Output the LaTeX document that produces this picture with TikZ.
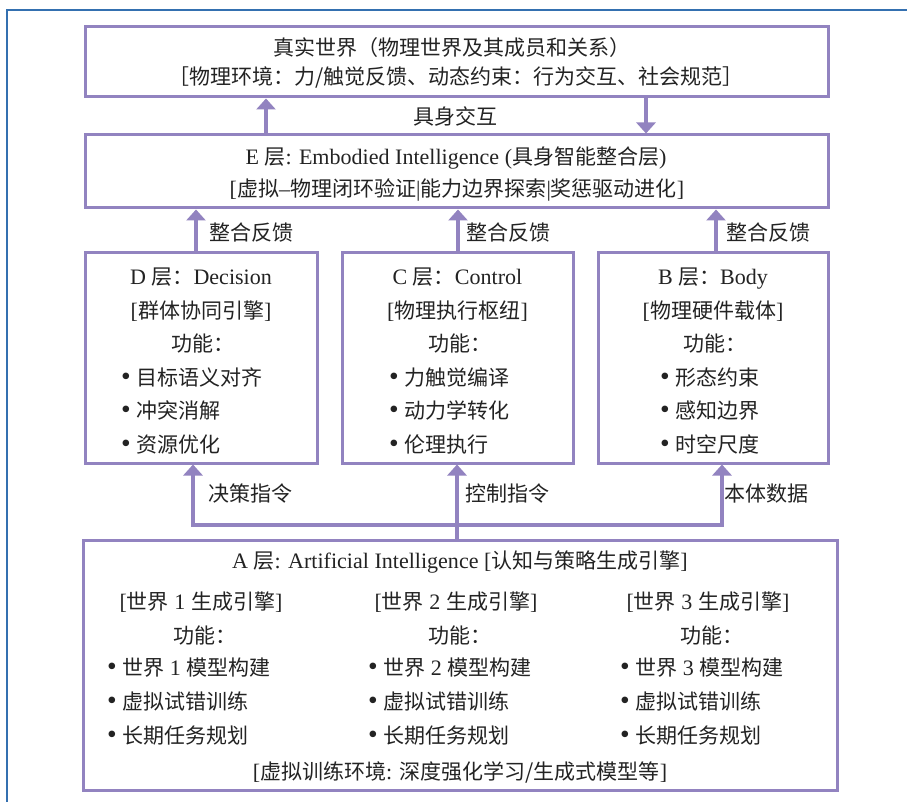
\documentclass[tikz,border=0pt]{standalone}
\usepackage{fontspec}
\setmainfont{Liberation Serif}[Scale=1.05]
\newfontfamily\cjk{Noto Sans CJK SC}
\usetikzlibrary{arrows.meta}
\definecolor{lav}{RGB}{146,131,192}
\definecolor{frameblue}{RGB}{52,112,176}
\definecolor{ink}{RGB}{35,35,35}
\begin{document}
\begin{tikzpicture}[x=1pt,y=-1pt,
  box/.style={draw=lav, line width=3pt, inner sep=0pt},
  lbl/.style={inner sep=0pt, text=ink, font=\fontsize{21}{24}\selectfont, text height=17.5pt, text depth=2pt},
  conn/.style={draw=lav, line width=3.5pt},
  tip/.tip={Triangle[width=19pt,length=11pt]},
  arr/.style={conn, -tip},
]
\useasboundingbox (0,0) rectangle (907,802);
\fill[white] (0,0) rectangle (907,802);
% outer frame
\draw[frameblue, line width=1.5pt] (7,802) -- (7,10) -- (907,10);

% boxes
\node[box, minimum width=743pt, minimum height=70pt] (W) at (456.5,62) {};
\node[box, minimum width=743pt, minimum height=73pt] (E) at (456.5,171.5) {};
\node[box, minimum width=232pt, minimum height=210pt] (D) at (201,358) {};
\node[box, minimum width=231pt, minimum height=210pt] (C) at (457.5,358) {};
\node[box, minimum width=230pt, minimum height=210pt] (B) at (713,358) {};
\node[box, minimum width=754pt, minimum height=250pt] (A) at (460,665) {};

% top box text
\node[lbl] (W1) at (452,48) {\cjk 真实世界（物理世界及其成员和关系）};
\node[lbl] (W2) at (456,77) {\cjk ［物理环境：力/触觉反馈、动态约束：行为交互、社会规范］};

% E box text
\node[lbl] (E1) at (456,157) {E {\cjk 层}: Embodied Intelligence ({\cjk 具身智能整合层})};
\node[lbl] (E2) at (457,189) {[{\cjk 虚拟}–{\cjk 物理闭环验证}|{\cjk 能力边界探索}|{\cjk 奖惩驱动进化}]};

% arrows between world and E
\coordinate (upx) at (266,0);
\coordinate (dnx) at (646,0);
\draw[arr] (E.north -| upx) -- (W.south -| upx);
\draw[arr] (W.south -| dnx) -- (E.north -| dnx);
\node[lbl] (jsjh) at (455,117) {\cjk 具身交互};

% feedback arrows
\coordinate (fd) at (196,0);
\coordinate (fc) at (458,0);
\coordinate (fb) at (716,0);
\draw[arr] (D.north -| fd) -- (E.south -| fd);
\draw[arr] (C.north -| fc) -- (E.south -| fc);
\draw[arr] (B.north -| fb) -- (E.south -| fb);
\node[lbl, anchor=west] (fbD) at (209,233) {\cjk 整合反馈};
\node[lbl, anchor=west] (fbC) at (466,233) {\cjk 整合反馈};
\node[lbl, anchor=west] (fbB) at (726,233) {\cjk 整合反馈};

% D box
\node[lbl] (D1) at (201,277) {D {\cjk 层：}Decision};
\node[lbl] (D2) at (201,310.5) {[{\cjk 群体协同引擎}]};
\node[lbl] (D3) at (203,344) {\cjk 功能：};
\node[lbl, anchor=west] (D4) at (121,377.5) {\scalebox{1.25}{•} {\cjk 目标语义对齐}};
\node[lbl, anchor=west] (D5) at (121,411) {\scalebox{1.25}{•} {\cjk 冲突消解}};
\node[lbl, anchor=west] (D6) at (121,444.5) {\scalebox{1.25}{•} {\cjk 资源优化}};

% C box
\node[lbl] (C1) at (457.5,277) {C {\cjk 层：}Control};
\node[lbl] (C2) at (457.5,310.5) {[{\cjk 物理执行枢纽}]};
\node[lbl] (C3) at (459.5,344) {\cjk 功能：};
\node[lbl, anchor=west] (C4) at (389,377.5) {\scalebox{1.25}{•} {\cjk 力触觉编译}};
\node[lbl, anchor=west] (C5) at (389,411) {\scalebox{1.25}{•} {\cjk 动力学转化}};
\node[lbl, anchor=west] (C6) at (389,444.5) {\scalebox{1.25}{•} {\cjk 伦理执行}};

% B box
\node[lbl] (B1) at (713,277) {B {\cjk 层：}Body};
\node[lbl] (B2) at (713,310.5) {[{\cjk 物理硬件载体}]};
\node[lbl] (B3) at (715,344) {\cjk 功能：};
\node[lbl, anchor=west] (B4) at (660,377.5) {\scalebox{1.25}{•} {\cjk 形态约束}};
\node[lbl, anchor=west] (B5) at (660,411) {\scalebox{1.25}{•} {\cjk 感知边界}};
\node[lbl, anchor=west] (B6) at (660,444.5) {\scalebox{1.25}{•} {\cjk 时空尺度}};

% bottom connectors
\coordinate (jl) at (193,525);
\coordinate (jc) at (457,525);
\coordinate (jr) at (722,525);
\draw[conn, tip-tip] (D.south -| jl) -- (jl) -- (jr) -- (B.south -| jr);
\draw[arr] (A.north -| jc) -- (C.south -| jc);
\node[lbl, anchor=west] (lD) at (208,494) {\cjk 决策指令};
\node[lbl, anchor=west] (lC) at (465,494) {\cjk 控制指令};
\node[lbl, anchor=west] (lB) at (724,494) {\cjk 本体数据};

% A box
\node[lbl] (A0) at (460,561) {A {\cjk 层}: Artificial Intelligence [{\cjk 认知与策略生成引擎}]};
\node[lbl] (A11) at (201,602) {[{\cjk 世界} 1 {\cjk 生成引擎}]};
\node[lbl] (A12) at (205,636) {\cjk 功能：};
\node[lbl, anchor=west] (A13) at (107,668) {\scalebox{1.25}{•} {\cjk 世界} 1 {\cjk 模型构建}};
\node[lbl, anchor=west] (A14) at (107,702) {\scalebox{1.25}{•} {\cjk 虚拟试错训练}};
\node[lbl, anchor=west] (A15) at (107,736) {\scalebox{1.25}{•} {\cjk 长期任务规划}};

\node[lbl] (A21) at (456,602) {[{\cjk 世界} 2 {\cjk 生成引擎}]};
\node[lbl] (A22) at (460,636) {\cjk 功能：};
\node[lbl, anchor=west] (A23) at (368,668) {\scalebox{1.25}{•} {\cjk 世界} 2 {\cjk 模型构建}};
\node[lbl, anchor=west] (A24) at (368,702) {\scalebox{1.25}{•} {\cjk 虚拟试错训练}};
\node[lbl, anchor=west] (A25) at (368,736) {\scalebox{1.25}{•} {\cjk 长期任务规划}};

\node[lbl] (A31) at (708,602) {[{\cjk 世界} 3 {\cjk 生成引擎}]};
\node[lbl] (A32) at (712,636) {\cjk 功能：};
\node[lbl, anchor=west] (A33) at (620,668) {\scalebox{1.25}{•} {\cjk 世界} 3 {\cjk 模型构建}};
\node[lbl, anchor=west] (A34) at (620,702) {\scalebox{1.25}{•} {\cjk 虚拟试错训练}};
\node[lbl, anchor=west] (A35) at (620,736) {\scalebox{1.25}{•} {\cjk 长期任务规划}};

\node[lbl] (A4) at (460,772) {[{\cjk 虚拟训练环境}: {\cjk 深度强化学习/生成式模型等}]};
\end{tikzpicture}
\end{document}
